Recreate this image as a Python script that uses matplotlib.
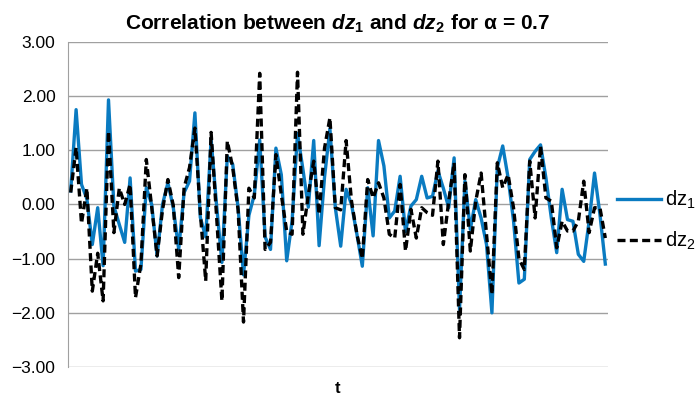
import matplotlib.pyplot as plt
import numpy as np

plt.rcParams["font.family"] = ["Liberation Sans", "DejaVu Sans"]
plt.rcParams["mathtext.fontset"] = "custom"
plt.rcParams["mathtext.rm"] = "Liberation Sans"
plt.rcParams["mathtext.it"] = "Liberation Sans:italic"
plt.rcParams["mathtext.bf"] = "Liberation Sans:bold"
try:
    plt.rcParams["mathtext.bfit"] = "Liberation Sans:bold:italic"
except KeyError:
    pass

# values (100 time steps)
dz1 = [0.25, 1.75, 0.37, 0.10, -0.74, -0.06, -1.13, 1.93, -0.03, -0.37,
       -0.70, 0.49, -1.23, -1.20, 0.31, 0.00, -0.95, 0.00, 0.40, -0.06,
       -0.83, 0.22, 0.43, 1.69, -0.24, -0.60, 1.20, 0.00, -1.07, 0.89,
       0.74, -0.06, -1.30, -0.20, 0.18, 1.19, -0.60, -0.83, 1.04, 0.55,
       -1.04, -0.30, 1.31, 0.65, -0.05, 1.18, -0.76, 0.50, 1.40, -0.06,
       -0.77, 0.28, 0.00, -0.55, -1.14, 0.31, -0.58, 1.18, 0.71, -0.25,
       -0.12, 0.52, -0.50, -0.03, 0.09, 0.52, 0.12, 0.15, 0.62, 0.30,
       -0.06, 0.86, -1.94, 0.43, -0.46, 0.09, -0.25, -0.74, -2.00, 0.68,
       1.08, 0.49, -0.30, -1.45, -1.38, 0.83, 0.98, 1.10, 0.49, -0.25,
       -0.89, 0.28, -0.28, -0.31, -0.92, -1.05, -0.31, 0.58, -0.18, -1.10]

dz2 = [0.22, 1.05, -0.35, 0.30, -1.60, -0.90, -1.78, 1.35, -0.52, 0.30,
       0.00, 0.37, -1.72, -1.10, 0.83, -0.05, -0.95, -0.10, 0.46, -0.02,
       -1.35, 0.31, 0.68, 1.41, -0.15, -1.41, 1.33, -0.20, -1.78, 1.17,
       0.68, -0.10, -2.17, 0.30, 0.12, 2.42, -0.83, -0.70, 0.92, 0.18,
       -0.50, -0.55, 2.44, -0.55, 0.18, 0.80, -0.18, 1.04, 1.60, -0.06,
       -0.10, 1.18, 0.06, -0.55, -1.00, 0.46, 0.12, 0.40, 0.12, -0.55,
       -0.62, 0.37, -0.86, -0.09, -0.62, -0.06, -0.15, -0.20, 0.80, -0.74,
       0.06, 0.77, -2.46, 0.55, -0.86, 0.06, 0.58, -0.55, -1.66, 0.77,
       0.31, 0.55, -0.06, -1.00, -1.20, 0.80, -0.25, 1.08, 0.12, 0.06,
       -0.80, -0.31, -0.49, -0.49, -0.31, 0.43, -0.52, -0.06, -0.06, -0.62]

yticks = [3, 2, 1, 0, -1, -2, -3]
ytick_labels = ["3.00", "2.00", "1.00", "0.00", "\u22121.00", "\u22122.00", "\u22123.00"]

t = np.arange(len(dz1))

fig = plt.figure(figsize=(6.96, 4.03), dpi=100)
ax = fig.add_axes([0.0977, 0.0893, 0.7759, 0.8067])

ax.plot(t, dz1, color="#0a7bc1", lw=2.4, label="dz$_1$", zorder=3)
ax.plot(t, dz2, color="black", lw=2.4, ls=(0, (2.4, 1.3)), label="dz$_2$", zorder=4)

ax.set_xlim(-0.5, len(dz1) - 0.5)
ax.set_ylim(-3, 3)
ax.set_yticks(yticks)
ax.set_yticklabels(ytick_labels, fontsize=12.5)
ax.set_xticks([])
ax.grid(axis="y", color="#a0a0a0", lw=1.0)
ax.set_axisbelow(True)
for s in ["top", "right", "bottom"]:
    ax.spines[s].set_visible(False)
ax.spines["left"].set_color("#a0a0a0")
ax.tick_params(axis="y", length=0, pad=9)

ax.set_xlabel("t", fontsize=12, fontweight="bold", labelpad=10)
ax.set_title(r"Correlation between $\mathbfit{dz}_\mathbf{1}$ and $\mathbfit{dz}_\mathbf{2}$ for α = 0.7",
             fontsize=15, fontweight="bold", pad=9)

fig.legend(loc="center left", bbox_to_anchor=(0.886, 0.453), frameon=False,
           fontsize=14.5, handlelength=2.2, labelspacing=0.95, handletextpad=0.2,
           borderpad=0, borderaxespad=0)

fig.savefig("out.png", dpi=100)
